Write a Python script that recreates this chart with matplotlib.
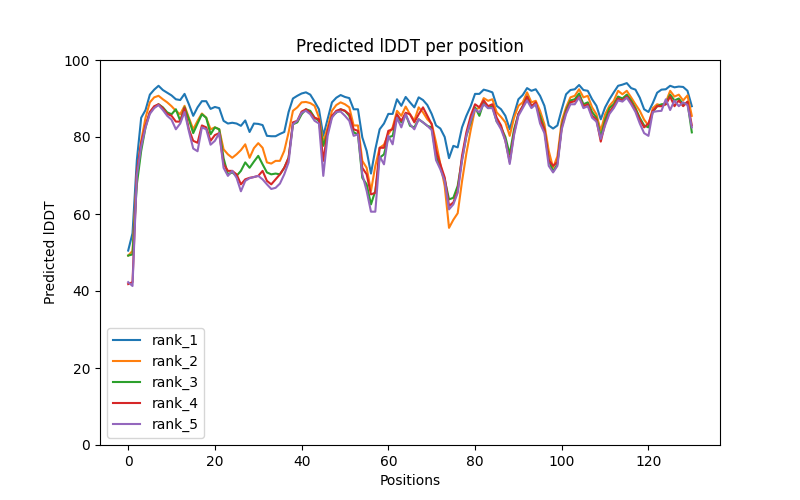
import numpy as np
import matplotlib
matplotlib.use('Agg')
import matplotlib.pyplot as plt

# predicted lDDT per residue for the 5 ranked models
rank_1 = [50.5, 55, 74, 85, 87, 91, 92.3, 93.3, 92.2, 91.5,
          90.8, 89.8, 89.6, 91.2, 88.5, 85.5, 87.7, 89.3, 89.3, 87.3,
          87.8, 87.5, 84.2, 83.5, 83.7, 83.5, 82.9, 84.3, 81.3, 83.5,
          83.4, 83.1, 80.3, 80.2, 80.2, 80.8, 81.3, 86.5, 90, 90.7,
          91.3, 91.6, 91, 89.2, 87.2, 80.3, 84.6, 89, 90.2, 90.9,
          90.4, 90.1, 87.2, 87.2, 79.9, 76.4, 70.5, 76.8, 82, 83.5,
          86, 86, 89.8, 88.1, 90.4, 89, 87.7, 90.3, 89.6, 88.3,
          86, 83, 82.2, 80, 74.5, 77.7, 77.3, 82.5, 85.5, 88,
          91.2, 91.2, 92.3, 92, 91.6, 88.1, 87.2, 85.5, 82, 85.9,
          89.8, 90.9, 92.7, 92, 92.4, 90.7, 88.1, 83, 82.2, 83,
          87.2, 91.1, 92.2, 92.4, 93.5, 92.2, 92, 89.8, 88.1, 84.6,
          87.7, 89.8, 91.6, 93.3, 93.6, 94, 92.7, 92.3, 90.2, 87.2,
          86.5, 88.8, 91.5, 92.3, 92.4, 93.3, 92.9, 93.1, 93, 92,
          88]
rank_2 = [49.2, 50.4, 70.3, 79, 85, 89, 90.3, 90.7, 89.8, 89,
          88, 86.8, 85.9, 88.1, 85, 82, 84.2, 86.1, 85, 82,
          82.5, 82, 76.8, 75.5, 74.6, 75.5, 76.6, 78.1, 74.6, 77.1,
          78.4, 77.2, 73.4, 73.1, 73.8, 73.8, 76.4, 81.2, 86.8, 87.7,
          89, 89.1, 88.8, 88.1, 85, 78.6, 82.5, 86.8, 88.3, 89,
          88.5, 87.7, 83, 83, 73.8, 72, 66, 72.5, 77.2, 78,
          80.7, 82.5, 86.8, 85.5, 87.9, 85.9, 84.3, 87.7, 86.4, 84.6,
          83.5, 78.6, 73, 67.3, 56.4, 58.5, 60.2, 68.5, 75.7, 81.8,
          87.2, 87.5, 90.1, 89.4, 89.8, 86.4, 85.2, 83.8, 80.3, 85,
          88.1, 89, 91.6, 89, 89.4, 86.8, 83.3, 76.4, 72, 75,
          84.2, 87.7, 90.3, 90.7, 92.4, 90.3, 90.7, 87.7, 85.9, 81.6,
          85.9, 88.1, 89.4, 92, 91.1, 92, 90.3, 88.5, 86.8, 84.5,
          83, 87.5, 88.5, 88.2, 89, 92, 90.5, 91, 89.5, 90.8,
          85.5]
rank_3 = [49.2, 49.5, 67.7, 76.4, 82.5, 86.4, 87.7, 88.5, 87.7, 86.4,
          85.9, 87.2, 84.2, 87.7, 84.6, 81, 83.5, 85.9, 85, 80.7,
          82.5, 82, 74.5, 70.3, 70.8, 69.9, 71.2, 73.4, 72, 73.6,
          75.1, 72.9, 70.8, 70.3, 70.5, 70.3, 72, 74.6, 83.3, 83.8,
          85.9, 87.2, 86.8, 85, 84.2, 77.7, 81.2, 85.4, 86.3, 87.2,
          86.8, 85.5, 81.2, 80.7, 69.4, 67.7, 62.5, 66, 74.6, 75.5,
          79.9, 80.3, 85.5, 83.8, 85.9, 82.9, 82.5, 84.6, 83.8, 82.9,
          82.5, 75.1, 72.1, 69, 63.8, 64.2, 67.3, 74.2, 80.3, 83.8,
          87.7, 85.5, 89, 87.5, 88, 84, 82.5, 80, 75.5, 82,
          86, 88, 90.5, 88, 88.5, 85.5, 82, 74, 71, 73,
          83, 87, 89.5, 89.8, 91.3, 88.5, 89, 86.5, 85, 80,
          84.5, 87.5, 88.5, 90.5, 90, 91, 89.5, 87.5, 85, 83,
          82.5, 86.5, 88, 88.5, 88.5, 91, 89.5, 90, 88.5, 89,
          81.2]
rank_4 = [41.8, 42.3, 71, 78.5, 83, 86.5, 88, 88.5, 87.5, 86,
          85.5, 84, 84, 87.5, 82, 79, 78.5, 83, 82.5, 79,
          80.5, 81, 73, 71.2, 71.2, 70.3, 67.7, 69, 69.4, 69.6,
          69.9, 71.2, 68.6, 67.7, 69, 70.3, 72, 74.6, 83.8, 84.2,
          86.6, 87.2, 86.3, 85, 84.6, 73.8, 81.6, 85.5, 86.8, 87.2,
          86.8, 85.9, 82, 81.6, 72, 70.3, 65.1, 65.5, 77.2, 77.2,
          81.6, 82, 85.9, 84.2, 86.3, 85.9, 83.8, 85.9, 87.7, 85.5,
          83.3, 76.5, 72.9, 69.5, 62.1, 63, 66, 75.1, 81.2, 85.5,
          88.5, 87.7, 89.5, 88, 88.5, 85, 83, 79, 73.5, 81,
          86, 88, 90.5, 88, 89, 84.5, 82, 74, 72.5, 73.5,
          82.5, 86.5, 89, 89.3, 90.5, 88, 88.5, 85.5, 84.5, 78.8,
          83.5, 86.5, 88, 90, 89.5, 90.5, 89, 87, 84.5, 82.5,
          83.5, 86.8, 88, 88, 88.5, 90.5, 88, 89.5, 88, 89.2,
          83]
rank_5 = [42.3, 41.3, 70, 77.5, 82.5, 86, 87.5, 88.3, 87, 85.5,
          84.5, 82, 83.5, 86.5, 81.5, 77, 76.3, 82.5, 82, 78,
          79, 81, 72, 69.9, 71.2, 69.4, 65.9, 68.6, 69.3, 69.6,
          69.9, 69, 67.7, 66.5, 66.8, 67.9, 70.3, 73.4, 83.3, 84.2,
          86.3, 86.8, 85.9, 84.2, 83.5, 69.9, 80.3, 85, 86.5, 86.6,
          85.5, 84.2, 80.3, 80.7, 70.3, 66, 60.6, 60.6, 75, 72.9,
          80.3, 78.1, 85, 82.5, 85.9, 83.3, 82, 84.6, 83.8, 82.9,
          81.8, 74, 71.6, 68.6, 61.2, 62.5, 65.5, 73.8, 80.3, 84.2,
          87.2, 86.4, 88.5, 87.5, 87.5, 84, 82, 79, 73, 80.5,
          85.5, 87.5, 89.5, 87.5, 88.5, 83.5, 81, 72.5, 70.8, 72.5,
          82, 86, 88.5, 88.5, 90.3, 87.5, 88, 85, 84, 79.5,
          83, 86, 87.5, 89.5, 89.2, 90.2, 88.5, 86.5, 83.5, 81,
          80.3, 86.5, 86.7, 86.8, 89.8, 87, 89.5, 88, 89, 88.3,
          82.5]

ranks = [rank_1, rank_2, rank_3, rank_4, rank_5]
names = ['rank_1', 'rank_2', 'rank_3', 'rank_4', 'rank_5']

plt.figure(figsize=(8, 5), dpi=100)
plt.title('Predicted lDDT per position')
for name, plddt in zip(names, ranks):
    plt.plot(np.arange(len(plddt)), plddt, label=name)
plt.legend()
plt.ylim(0, 100)
plt.ylabel('Predicted lDDT')
plt.xlabel('Positions')
plt.savefig('out.png', dpi=100)
